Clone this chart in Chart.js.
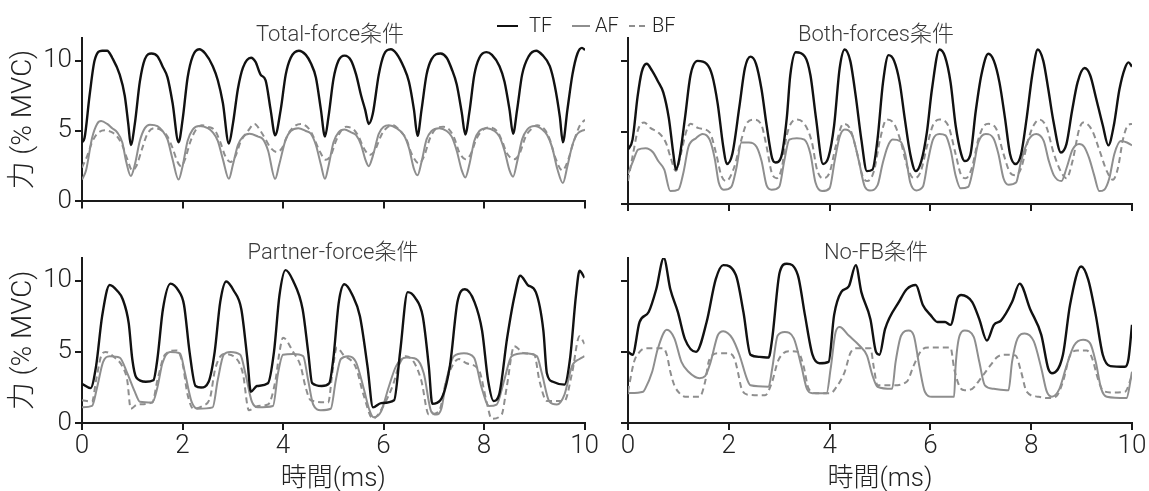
<!DOCTYPE html>
<html>
<head>
<meta charset="utf-8">
<script src="https://cdn.jsdelivr.net/npm/chart.js@4.4.1/dist/chart.umd.min.js"></script>
<style>
  html, body { margin: 0; padding: 0; background: #fff; }
  #wrap { position: relative; width: 1149px; height: 491px; overflow: hidden;
          font-family: Roboto, 'Noto Sans CJK JP', sans-serif; font-weight: 300; }
  .pane { position: absolute; }
  .ttl { position: absolute; font-size: 22px; color: #3a3a3a; white-space: nowrap;
         transform: translate(-50%, -50%); }
  .lg { position: absolute; font-size: 20px; color: #222; white-space: nowrap; transform: translateY(-50%); top: 25px; }
  .sw { position: absolute; top: 25px; height: 0; }
</style>
</head>
<body>
<div id="wrap">
  <canvas id="c1" class="pane" style="left:0;top:0" width="600" height="220"></canvas>
  <canvas id="c2" class="pane" style="left:600px;top:0" width="549" height="220"></canvas>
  <canvas id="c3" class="pane" style="left:0;top:220px" width="600" height="271"></canvas>
  <canvas id="c4" class="pane" style="left:600px;top:220px" width="549" height="271"></canvas>
  <div class="ttl" style="left:330px;top:31px">Total-force条件</div>
  <div class="ttl" style="left:876px;top:31px">Both-forces条件</div>
  <div class="ttl" style="left:333px;top:249px">Partner-force条件</div>
  <div class="ttl" style="left:876px;top:249px">No-FB条件</div>
  <span class="sw" style="left:497px;width:21px;border-top:2.5px solid #111"></span>
  <span class="lg" style="left:529px">TF</span>
  <span class="sw" style="left:572px;width:18px;border-top:2px solid #8e8e8e"></span>
  <span class="lg" style="left:595px">AF</span>
  <span class="sw" style="left:629px;width:16px;border-top:2px dashed #8e8e8e"></span>
  <span class="lg" style="left:652px">BF</span>
</div>
<script>
// Time axis (ms) and force axis (% MVC)
const xTicks = [0, 2, 4, 6, 8, 10];
const yTicks = [0, 5, 10];
const seriesNames = ['TF', 'AF', 'BF'];

// ---- Total-force condition: [time, force] ----
const totalTF = [[0,4.2],[0.05,4.5],[0.15,7.5],[0.25,10.0],[0.4,10.7],[0.5,10.7],[0.6,10.2],[0.75,9.0],[0.85,7.5],[0.92,5.5],[0.97,4.0],[1.05,5.5],[1.15,8.5],[1.25,10.1],[1.38,10.5],[1.5,10.3],[1.6,9.6],[1.7,8.8],[1.8,7.0],[1.92,4.2],[2.0,5.8],[2.1,8.8],[2.2,10.3],[2.33,10.8],[2.45,10.5],[2.6,9.6],[2.7,8.6],[2.8,7.0],[2.92,4.1],[3.0,5.5],[3.1,8.0],[3.2,9.5],[3.36,10.2],[3.45,9.9],[3.55,9.0],[3.65,8.6],[3.75,6.5],[3.84,4.7],[3.95,6.5],[4.05,9.0],[4.15,10.2],[4.31,10.7],[4.45,10.4],[4.55,9.8],[4.65,8.8],[4.75,6.5],[4.83,4.6],[4.9,6.0],[5.0,8.7],[5.1,10.0],[5.22,10.35],[5.35,10.0],[5.45,9.0],[5.55,7.5],[5.63,6.5],[5.7,5.5],[5.78,6.2],[5.9,9.0],[6.0,10.4],[6.14,10.8],[6.25,10.5],[6.4,9.5],[6.5,8.5],[6.6,6.5],[6.67,4.65],[6.75,6.5],[6.85,9.0],[6.95,10.1],[7.13,10.5],[7.25,10.2],[7.35,9.4],[7.45,8.3],[7.55,6.3],[7.62,4.75],[7.7,6.3],[7.8,9.0],[7.9,10.2],[8.04,10.6],[8.15,10.4],[8.3,9.6],[8.4,8.5],[8.5,6.5],[8.57,4.8],[8.65,6.5],[8.75,9.0],[8.88,10.3],[9.03,10.7],[9.15,10.4],[9.3,9.6],[9.4,8.2],[9.5,6.0],[9.56,4.2],[9.65,6.5],[9.75,9.0],[9.85,10.5],[9.94,10.9],[10,10.75]];
const totalAF = [[0,1.55],[0.08,2.2],[0.2,4.5],[0.3,5.5],[0.38,5.7],[0.5,5.5],[0.6,5.2],[0.7,4.9],[0.8,4.2],[0.88,2.8],[0.97,1.8],[1.05,2.6],[1.15,4.3],[1.25,5.2],[1.35,5.45],[1.5,5.35],[1.6,5.0],[1.7,4.4],[1.8,3.0],[1.92,1.55],[2.0,2.5],[2.1,4.3],[2.2,5.1],[2.33,5.35],[2.5,5.2],[2.6,4.9],[2.7,4.3],[2.8,3.0],[2.92,1.6],[3.0,2.6],[3.1,4.0],[3.2,4.6],[3.33,4.8],[3.5,4.6],[3.6,4.4],[3.7,3.6],[3.84,1.6],[3.92,2.6],[4.05,4.4],[4.15,5.0],[4.3,5.2],[4.45,5.0],[4.55,4.8],[4.65,4.0],[4.75,2.6],[4.83,1.6],[4.9,2.5],[5.0,4.2],[5.1,4.9],[5.22,5.1],[5.35,4.9],[5.45,4.7],[5.55,4.0],[5.63,3.0],[5.7,2.5],[5.78,3.2],[5.9,4.8],[6.0,5.3],[6.1,5.4],[6.25,5.2],[6.4,4.7],[6.5,3.8],[6.6,2.3],[6.67,1.85],[6.75,2.8],[6.85,4.4],[6.95,5.0],[7.1,5.2],[7.25,5.0],[7.35,4.6],[7.45,3.6],[7.55,2.2],[7.62,1.7],[7.7,2.6],[7.8,4.3],[7.9,5.0],[8.05,5.2],[8.2,5.0],[8.3,4.6],[8.4,3.6],[8.5,2.2],[8.57,1.75],[8.65,2.8],[8.75,4.4],[8.85,5.1],[9.0,5.35],[9.15,5.1],[9.25,4.7],[9.35,3.8],[9.45,2.3],[9.56,1.3],[9.65,2.5],[9.75,4.0],[9.85,4.8],[10,5.1]];
const totalBF = [[0,2.4],[0.1,3.2],[0.2,4.2],[0.3,4.8],[0.45,5.05],[0.6,4.9],[0.7,4.6],[0.8,4.0],[0.9,3.0],[1.0,2.2],[1.08,2.5],[1.2,3.8],[1.3,4.8],[1.45,5.2],[1.6,5.0],[1.7,4.6],[1.8,3.8],[1.9,2.8],[1.97,2.5],[2.05,3.0],[2.15,4.2],[2.25,5.0],[2.38,5.4],[2.5,5.3],[2.65,5.0],[2.75,4.2],[2.85,3.2],[2.95,2.8],[3.05,3.2],[3.15,4.2],[3.3,5.0],[3.43,5.5],[3.55,5.0],[3.65,4.4],[3.75,3.8],[3.88,3.5],[3.98,3.8],[4.1,4.8],[4.25,5.4],[4.35,5.5],[4.5,5.2],[4.6,4.6],[4.72,3.6],[4.85,2.95],[4.95,3.3],[5.05,4.3],[5.15,5.0],[5.25,5.3],[5.4,5.1],[5.5,4.6],[5.6,3.8],[5.72,3.3],[5.82,3.6],[5.95,4.7],[6.05,5.2],[6.18,5.4],[6.3,5.1],[6.45,4.4],[6.55,3.4],[6.7,2.7],[6.8,3.2],[6.92,4.5],[7.05,5.2],[7.18,5.3],[7.3,5.1],[7.4,4.5],[7.5,3.5],[7.62,3.0],[7.72,3.3],[7.85,4.5],[7.98,5.1],[8.1,5.25],[8.25,5.0],[8.35,4.3],[8.45,3.4],[8.6,3.0],[8.7,3.4],[8.82,4.6],[8.95,5.2],[9.05,5.4],[9.2,5.1],[9.3,4.4],[9.4,3.2],[9.55,2.2],[9.65,2.8],[9.78,4.3],[9.9,5.4],[10,5.8]];

// ---- Both-forces condition ----
const bothTF = [[0,3.8],[0.09,4.5],[0.19,7.5],[0.27,9.2],[0.37,9.8],[0.48,9.3],[0.59,8.6],[0.7,7.8],[0.81,6.0],[0.9,3.5],[0.95,2.4],[1.02,3.2],[1.13,6.0],[1.24,9.0],[1.38,10.0],[1.56,9.8],[1.67,9.0],[1.78,7.0],[1.89,4.0],[1.96,2.8],[2.07,3.5],[2.21,6.8],[2.32,9.5],[2.43,10.3],[2.54,9.8],[2.65,8.0],[2.75,5.5],[2.86,3.2],[2.93,2.9],[3.04,3.3],[3.15,6.0],[3.22,9.0],[3.33,10.6],[3.51,10.3],[3.62,9.0],[3.73,6.0],[3.87,2.8],[3.98,3.3],[4.09,5.5],[4.2,9.5],[4.3,10.8],[4.41,10.0],[4.52,7.5],[4.63,4.5],[4.74,2.3],[4.85,2.4],[4.95,4.5],[5.06,8.5],[5.17,10.4],[5.28,10.0],[5.39,8.5],[5.49,6.0],[5.6,3.5],[5.71,2.3],[5.82,3.0],[5.93,5.0],[6.03,8.0],[6.18,10.8],[6.29,10.3],[6.4,8.5],[6.5,5.5],[6.61,3.5],[6.68,3.0],[6.79,3.4],[6.9,6.5],[7.01,9.0],[7.15,10.5],[7.26,10.0],[7.37,8.5],[7.48,6.0],[7.58,3.5],[7.69,2.8],[7.8,3.5],[7.91,6.0],[8.02,9.0],[8.13,10.8],[8.24,10.0],[8.34,8.0],[8.44,5.8],[8.59,3.6],[8.7,4.2],[8.81,6.5],[8.92,8.5],[9.06,9.5],[9.17,9.0],[9.28,7.5],[9.42,5.5],[9.53,4.1],[9.64,5.5],[9.75,8.0],[9.86,9.5],[9.93,9.9],[10,9.6]];
const bothAF = [[0,2.1],[0.1,3.0],[0.2,3.8],[0.35,3.9],[0.5,3.6],[0.6,3.0],[0.72,2.4],[0.84,0.9],[1.0,1.0],[1.1,2.2],[1.2,4.0],[1.35,4.6],[1.48,4.9],[1.62,4.5],[1.72,3.2],[1.8,1.5],[1.9,1.0],[2.05,1.2],[2.15,2.5],[2.25,4.3],[2.4,4.3],[2.55,4.0],[2.65,3.0],[2.75,1.3],[2.85,1.0],[3.0,1.2],[3.1,3.0],[3.2,4.5],[3.35,4.6],[3.5,4.5],[3.62,3.5],[3.72,1.5],[3.85,0.9],[4.0,1.1],[4.1,3.0],[4.2,4.7],[4.3,5.2],[4.45,4.8],[4.58,3.0],[4.7,1.2],[4.8,0.95],[4.95,1.3],[5.05,2.8],[5.15,4.0],[5.25,4.5],[5.4,4.4],[5.5,3.5],[5.6,1.5],[5.72,0.95],[5.85,1.2],[5.95,3.0],[6.05,4.5],[6.18,4.9],[6.3,4.8],[6.4,3.8],[6.5,2.0],[6.6,1.1],[6.75,1.2],[6.85,2.5],[6.95,4.3],[7.1,4.9],[7.25,4.6],[7.35,3.5],[7.45,1.8],[7.55,1.35],[7.7,1.5],[7.8,3.0],[7.95,4.5],[8.1,4.9],[8.25,4.4],[8.35,3.0],[8.45,2.0],[8.6,1.6],[8.7,2.5],[8.82,3.8],[8.95,4.2],[9.05,4.0],[9.15,3.2],[9.25,2.0],[9.35,0.9],[9.45,1.0],[9.55,1.8],[9.65,3.5],[9.78,4.4],[9.9,4.3],[10,4.1]];
const bothBF = [[0,1.6],[0.1,3.5],[0.2,5.2],[0.32,5.7],[0.45,5.3],[0.6,5.0],[0.75,4.3],[0.85,3.2],[0.95,2.3],[1.05,3.5],[1.15,5.0],[1.24,5.6],[1.4,5.3],[1.62,5.0],[1.75,3.5],[1.85,2.0],[1.95,1.6],[2.1,2.5],[2.25,4.5],[2.35,5.6],[2.5,5.9],[2.65,5.5],[2.75,4.0],[2.85,2.2],[2.95,1.8],[3.05,2.5],[3.15,4.8],[3.33,5.9],[3.5,5.6],[3.65,4.3],[3.75,2.4],[3.87,1.8],[4.0,2.2],[4.12,4.0],[4.27,5.6],[4.4,5.3],[4.55,3.5],[4.65,2.0],[4.75,1.6],[4.88,2.3],[5.0,4.5],[5.13,5.9],[5.28,5.6],[5.4,4.5],[5.55,2.5],[5.67,1.8],[5.8,2.2],[5.95,4.3],[6.05,5.5],[6.18,5.9],[6.35,5.5],[6.5,3.5],[6.6,2.1],[6.7,1.8],[6.82,2.5],[6.95,4.5],[7.05,5.4],[7.15,5.6],[7.3,5.3],[7.45,3.5],[7.58,2.2],[7.69,2.0],[7.8,2.5],[7.95,4.6],[8.05,5.5],[8.16,5.9],[8.3,5.4],[8.45,3.5],[8.6,2.2],[8.7,1.8],[8.82,3.0],[8.95,5.2],[9.03,5.7],[9.2,5.2],[9.35,3.8],[9.5,2.3],[9.62,1.7],[9.72,2.5],[9.82,4.5],[9.92,5.5],[10,5.6]];

// ---- Partner-force condition ----
const partnerTF = [[0,2.75],[0.17,2.45],[0.28,4.0],[0.4,7.5],[0.55,9.7],[0.7,9.3],[0.81,8.7],[0.93,7.0],[1.0,4.5],[1.08,3.2],[1.27,2.9],[1.42,3.0],[1.5,4.5],[1.61,8.0],[1.76,9.8],[1.92,9.3],[2.03,8.3],[2.14,5.0],[2.26,2.6],[2.37,2.5],[2.52,2.9],[2.64,5.0],[2.75,8.5],[2.87,9.95],[3.02,9.3],[3.17,8.0],[3.29,4.5],[3.36,2.2],[3.48,2.6],[3.7,2.8],[3.82,5.0],[3.93,9.0],[4.05,10.75],[4.2,10.0],[4.39,8.0],[4.5,5.0],[4.58,2.8],[4.77,2.6],[4.92,2.8],[5.0,4.5],[5.11,8.5],[5.22,9.75],[5.38,9.0],[5.53,7.5],[5.68,4.0],[5.79,1.1],[5.95,1.4],[6.21,1.6],[6.33,5.0],[6.48,9.2],[6.63,8.8],[6.78,7.5],[6.9,4.0],[6.97,1.35],[7.13,1.6],[7.32,4.0],[7.47,8.5],[7.62,9.4],[7.81,8.5],[7.96,6.5],[8.08,3.0],[8.19,1.55],[8.3,2.0],[8.46,6.0],[8.61,9.0],[8.72,10.35],[8.87,9.7],[9.03,9.2],[9.18,6.5],[9.25,3.5],[9.37,2.9],[9.6,2.7],[9.71,4.5],[9.83,9.0],[9.9,10.7],[10,10.2]];
const partnerAF = [[0,1.1],[0.2,1.2],[0.3,2.5],[0.42,4.3],[0.55,4.7],[0.75,4.6],[0.9,3.5],[1.05,2.2],[1.15,1.5],[1.4,1.45],[1.5,2.5],[1.6,4.2],[1.75,5.0],[1.95,4.9],[2.05,3.5],[2.18,1.5],[2.3,1.0],[2.6,1.1],[2.7,3.0],[2.82,4.8],[2.95,5.0],[3.15,4.8],[3.25,3.5],[3.38,1.5],[3.5,1.1],[3.8,1.2],[3.9,3.5],[4.0,4.8],[4.2,4.85],[4.4,4.7],[4.5,3.0],[4.6,1.3],[4.75,0.9],[4.95,1.0],[5.05,3.0],[5.15,4.5],[5.3,4.7],[5.45,4.3],[5.6,2.5],[5.72,0.9],[5.8,0.4],[5.95,0.8],[6.1,2.5],[6.25,4.0],[6.45,4.6],[6.65,4.5],[6.8,3.5],[6.95,0.8],[7.05,0.6],[7.15,1.0],[7.25,3.0],[7.4,4.7],[7.6,4.9],[7.8,4.6],[7.95,2.5],[8.1,1.2],[8.25,1.3],[8.4,3.0],[8.55,4.7],[8.8,4.9],[9.05,4.7],[9.15,3.5],[9.3,1.5],[9.45,1.3],[9.6,2.0],[9.75,4.0],[9.9,4.5],[10,4.7]];
const partnerBF = [[0,1.6],[0.2,1.5],[0.28,3.0],[0.38,4.7],[0.47,5.0],[0.65,4.6],[0.8,4.0],[0.9,3.0],[0.97,1.0],[1.1,1.3],[1.4,1.45],[1.5,3.0],[1.65,4.8],[1.88,5.1],[2.0,4.2],[2.1,2.0],[2.22,1.0],[2.4,1.2],[2.55,1.8],[2.65,3.8],[2.83,4.85],[3.05,4.6],[3.2,3.5],[3.32,0.9],[3.5,1.2],[3.7,1.3],[3.85,3.0],[3.93,5.0],[4.0,6.0],[4.2,5.0],[4.35,4.0],[4.45,2.5],[4.55,1.6],[4.9,1.45],[4.98,3.5],[5.07,5.3],[5.2,4.8],[5.45,3.9],[5.6,2.0],[5.79,0.3],[5.98,1.1],[6.2,2.8],[6.3,4.0],[6.44,4.7],[6.6,4.3],[6.75,3.0],[6.9,0.6],[7.1,0.8],[7.25,3.0],[7.5,4.5],[7.65,4.2],[7.9,3.7],[8.05,1.5],[8.15,0.3],[8.35,0.6],[8.45,2.5],[8.6,5.4],[8.8,4.9],[9.0,4.8],[9.1,3.0],[9.25,1.55],[9.6,1.55],[9.75,3.5],[9.9,6.1],[10,5.55]];

// ---- No-FB condition ----
const nofbTF = [[0,5.0],[0.09,4.8],[0.23,7.1],[0.41,7.8],[0.56,9.4],[0.71,11.6],[0.84,9.4],[0.99,7.8],[1.13,5.9],[1.35,5.0],[1.56,7.1],[1.74,10.1],[1.89,11.1],[2.14,10.4],[2.29,7.8],[2.43,4.8],[2.61,4.65],[2.79,4.6],[2.86,5.9],[3.01,10.6],[3.15,11.2],[3.37,10.4],[3.51,7.6],[3.66,4.8],[3.8,4.2],[3.98,4.3],[4.09,7.6],[4.23,9.2],[4.38,9.6],[4.52,11.1],[4.63,9.2],[4.81,7.3],[4.92,5.0],[4.99,4.8],[5.1,6.6],[5.39,8.6],[5.53,9.4],[5.71,9.7],[5.85,8.3],[6.0,7.6],[6.14,7.1],[6.29,7.1],[6.4,6.9],[6.54,8.8],[6.61,9.0],[6.83,8.5],[6.97,7.3],[7.12,5.8],[7.26,6.9],[7.4,7.2],[7.62,8.5],[7.77,9.8],[7.98,8.0],[8.2,6.2],[8.34,3.8],[8.41,3.5],[8.63,4.8],[8.77,8.3],[8.99,11.0],[9.13,10.1],[9.28,7.6],[9.42,4.8],[9.57,4.0],[9.86,3.95],[9.93,4.5],[10,6.9]];
const nofbAF = [[0,2.1],[0.3,2.2],[0.34,2.4],[0.48,3.6],[0.59,5.2],[0.77,6.55],[0.92,5.95],[1.06,4.3],[1.2,3.6],[1.42,3.15],[1.53,3.3],[1.64,4.3],[1.78,6.15],[1.89,6.45],[2.07,5.95],[2.21,4.8],[2.36,3.1],[2.43,2.65],[2.79,2.55],[2.86,3.8],[2.97,6.15],[3.11,6.4],[3.29,5.95],[3.44,4.0],[3.55,2.4],[3.66,2.1],[3.94,2.1],[4.02,3.8],[4.12,6.4],[4.2,6.75],[4.38,6.15],[4.59,5.45],[4.74,4.75],[4.85,3.35],[4.95,2.55],[5.24,2.4],[5.31,4.3],[5.42,6.15],[5.57,6.5],[5.67,6.15],[5.78,4.0],[5.89,2.2],[6.03,1.85],[6.47,1.85],[6.5,4.0],[6.58,6.15],[6.68,6.5],[6.86,6.05],[6.97,4.3],[7.08,2.65],[7.26,2.4],[7.55,2.3],[7.62,4.3],[7.73,5.95],[7.87,6.3],[8.05,5.75],[8.2,3.85],[8.31,2.2],[8.41,1.85],[8.56,2.4],[8.7,4.0],[8.85,5.45],[9.03,5.85],[9.17,5.6],[9.28,4.3],[9.39,2.4],[9.5,1.85],[9.89,1.75],[10,3.6]];
const nofbBF = [[0,2.2],[0.12,4.3],[0.23,5.0],[0.34,5.25],[0.7,5.25],[0.77,4.8],[0.84,3.6],[0.92,2.65],[1.02,2.1],[1.13,1.85],[1.42,1.85],[1.53,2.9],[1.6,4.3],[1.67,4.75],[1.78,4.9],[2.0,4.9],[2.11,4.55],[2.18,3.6],[2.25,2.45],[2.36,2.0],[2.72,1.95],[2.86,2.9],[2.97,4.3],[3.08,4.9],[3.19,5.05],[3.37,5.0],[3.48,4.05],[3.58,2.45],[3.73,2.1],[4.02,2.1],[4.12,2.45],[4.3,3.6],[4.41,4.9],[4.52,5.25],[4.81,5.25],[4.88,3.85],[4.95,2.65],[5.24,2.65],[5.53,2.9],[5.67,4.05],[5.82,5.1],[5.96,5.3],[6.4,5.3],[6.47,3.85],[6.58,2.55],[6.68,2.3],[6.83,2.4],[6.97,3.0],[7.19,4.05],[7.33,4.65],[7.48,4.8],[7.69,4.75],[7.8,3.6],[7.91,2.2],[8.13,1.85],[8.34,1.75],[8.49,1.85],[8.63,2.9],[8.77,4.75],[8.92,5.1],[9.1,5.1],[9.21,4.55],[9.32,3.15],[9.42,2.3],[9.57,2.15],[9.86,2.2],[10,3.35]];

const FONT = "Roboto, 'Noto Sans CJK JP', sans-serif";
const INK = '#1a1a1a';
const GRAY = '#8e8e8e';

function toXY(arr) { return arr.map(p => ({ x: p[0], y: p[1] })); }

function makePanel(id, tf, af, bf, o) {
  const ctx = document.getElementById(id);
  return new Chart(ctx, {
    type: 'line',
    data: {
      datasets: [
        { label: seriesNames[0], data: toXY(tf), borderColor: '#111', borderWidth: 2.4 },
        { label: seriesNames[1], data: toXY(af), borderColor: GRAY, borderWidth: 2 },
        { label: seriesNames[2], data: toXY(bf), borderColor: GRAY, borderWidth: 2, borderDash: [6, 4] }
      ]
    },
    options: {
      responsive: false,
      animation: false,
      events: [],
      layout: { padding: { top: 38, right: o.padRight, left: 0, bottom: 0 } },
      elements: { point: { radius: 0 }, line: { cubicInterpolationMode: 'monotone', fill: false } },
      plugins: { legend: { display: false }, tooltip: { enabled: false } },
      scales: {
        x: {
          type: 'linear', min: 0, max: 10,
          afterBuildTicks: s => { s.ticks = xTicks.map(v => ({ value: v })); },
          afterFit: s => { s.height = o.xHeight; },
          border: { color: INK, width: 2 },
          grid: { drawOnChartArea: false, drawTicks: true, tickLength: 7, lineWidth: 2, color: INK },
          ticks: { display: o.xLabels, padding: 1, color: '#222', font: { family: FONT, size: 26, weight: 300 }, maxRotation: 0 },
          title: { display: o.xLabels, text: '時間(ms)', color: '#222', padding: { top: 0, bottom: -4 },
                   font: { family: FONT, size: 26, weight: 300 } }
        },
        y: {
          min: 0, max: 11.6,
          afterBuildTicks: s => { s.ticks = yTicks.map(v => ({ value: v })); },
          afterFit: s => { s.width = o.yWidth; },
          border: { color: INK, width: 2 },
          grid: { drawOnChartArea: false, drawTicks: true, tickLength: 7, lineWidth: 2, color: INK },
          ticks: { display: o.yLabels, padding: 3, color: '#222', font: { family: FONT, size: 26, weight: 300 } },
          title: { display: o.yLabels, text: '力 (% MVC)', color: '#222', padding: { top: 7, bottom: 0 },
                   font: { family: FONT, size: 28, weight: 300 } }
        }
      }
    }
  });
}

makePanel('c1', totalTF, totalAF, totalBF,       { yLabels: true,  xLabels: false, yWidth: 82, xHeight: 16, padRight: 15 });
makePanel('c2', bothTF, bothAF, bothBF,          { yLabels: false, xLabels: false, yWidth: 28, xHeight: 16, padRight: 17 });
makePanel('c3', partnerTF, partnerAF, partnerBF, { yLabels: true,  xLabels: true,  yWidth: 82, xHeight: 68, padRight: 15 });
makePanel('c4', nofbTF, nofbAF, nofbBF,          { yLabels: false, xLabels: true,  yWidth: 28, xHeight: 68, padRight: 17 });
</script>
</body>
</html>
